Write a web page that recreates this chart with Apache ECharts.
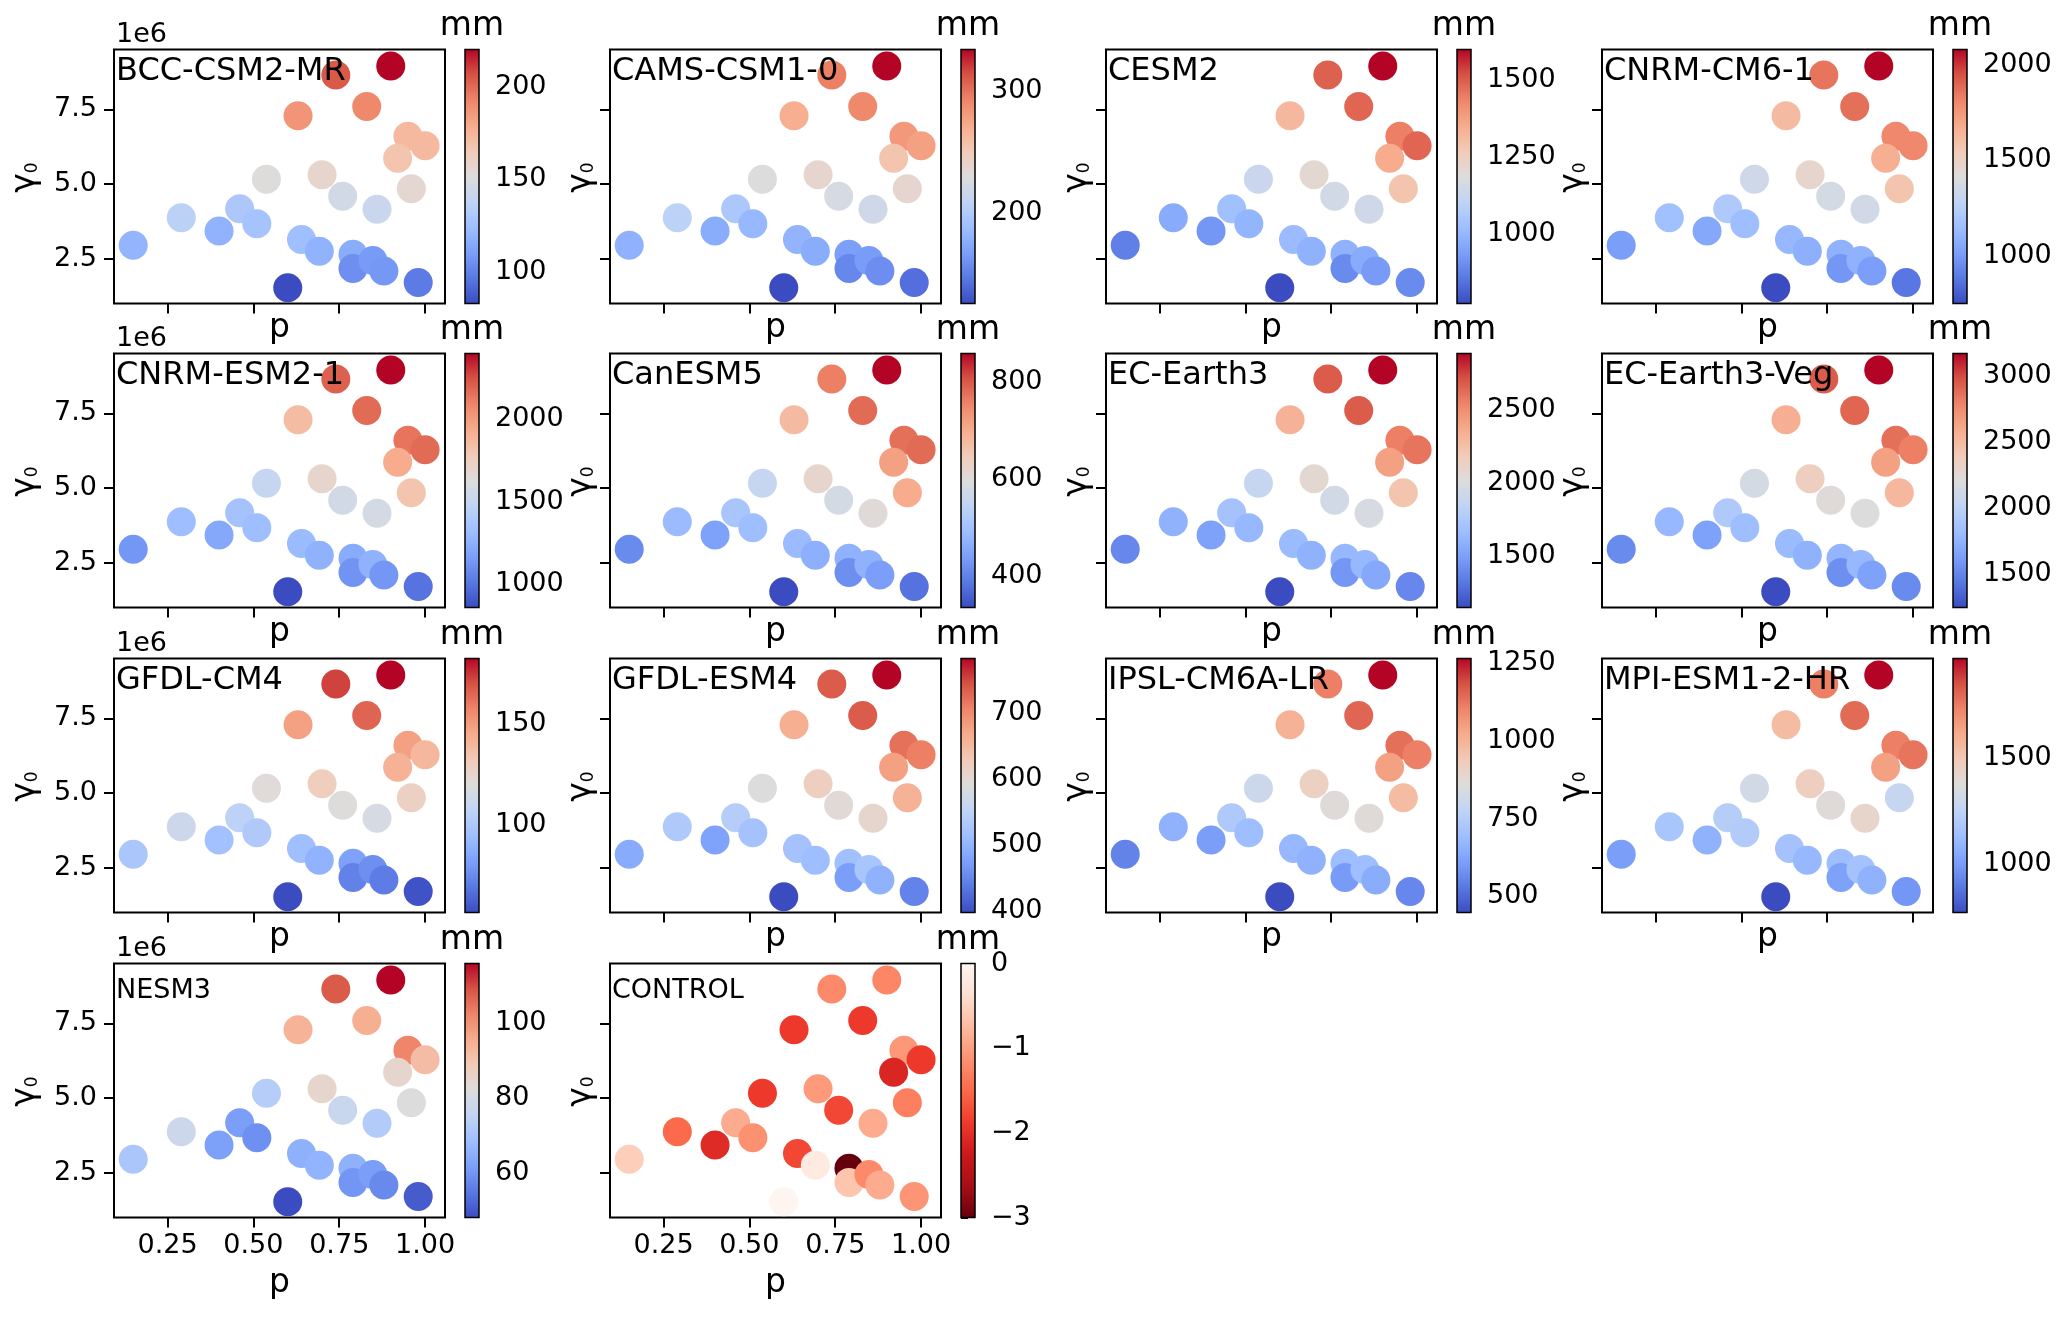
<!DOCTYPE html>
<html>
<head>
<meta charset="utf-8">
<script src="https://cdn.jsdelivr.net/npm/echarts@6/dist/echarts.min.js"></script>
<style>
html,body{margin:0;padding:0;background:#fff;}
#chart{width:2067px;height:1320px;}
</style>
</head>
<body>
<div id="chart"></div>
<script>
// panel names, in grid order
var models = ["BCC-CSM2-MR","CAMS-CSM1-0","CESM2","CNRM-CM6-1",
              "CNRM-ESM2-1","CanESM5","EC-Earth3","EC-Earth3-Veg",
              "GFDL-CM4","GFDL-ESM4","IPSL-CM6A-LR","MPI-ESM1-2-HR",
              "NESM3","CONTROL"];

// shared point positions (p, gamma0 in units of 1e6)
var pVals = [0.900,0.740,0.830,0.630,0.950,1.000,0.920,0.538,0.700,0.960,0.760,0.860,0.290,
             0.460,0.510,0.400,0.150,0.640,0.692,0.790,0.790,0.848,0.880,0.980,0.600];
var gammaVals = [8.95,8.65,7.59,7.28,6.60,6.28,5.86,5.16,5.31,4.84,4.59,4.15,3.87,
                 4.17,3.67,3.43,2.95,3.14,2.75,2.65,2.17,2.44,2.09,1.70,1.53];

// colour values (mm) per model
var bccVals      = [220,204,191,187,173,173,168,152,157,156,146,142,136,130,127,119,120,125,119,116,105,109,108,98,83];
var camsVals     = [334,294,290,270,282,278,255,230,238,238,224,220,207,197,184,176,180,182,176,168,155,166,159,143,126];
var cesm2Vals    = [1600,1493,1484,1319,1443,1484,1352,1129,1212,1286,1154,1146,972,1030,997,923,873,1014,989,989,898,972,931,898,774];
var cnrmcm6Vals  = [2079,1853,1867,1615,1800,1800,1668,1349,1469,1575,1376,1362,1163,1216,1150,1057,1017,1124,1084,1097,991,1097,1017,885,752];
var cnrmesm2Vals = [2400,2200,2169,1860,2138,2169,1937,1506,1691,1814,1567,1583,1321,1351,1321,1213,1136,1305,1259,1228,1120,1259,1136,997,858];
var canesm5Vals  = [860,760,781,676,776,781,718,555,618,702,581,602,487,508,492,444,413,487,466,471,418,471,439,381,334];
var ecearthVals  = [2890,2681,2681,2332,2558,2593,2419,1878,2070,2227,1948,1983,1599,1703,1634,1511,1389,1651,1599,1634,1459,1634,1546,1389,1145];
var ecvegVals    = [3172,2941,2903,2575,2864,2806,2652,2152,2364,2518,2229,2210,1786,1921,1825,1651,1536,1805,1748,1767,1555,1786,1651,1536,1247];
var gfdlcm4Vals  = [182,172,165,148,148,140,142,121,130,128,120,116,112,106,101,96,99,95,90,83,73,77,71,59,57];
var gfdlesm4Vals = [782,736,736,663,720,709,678,590,620,659,597,605,532,539,520,478,489,520,513,516,474,524,497,447,397];
var ipslVals     = [1266,1110,1151,1004,1135,1110,1045,807,914,979,865,865,660,734,693,611,553,676,660,693,603,693,644,562,447];
var mpiVals      = [1973,1745,1793,1552,1745,1769,1648,1324,1468,1276,1384,1432,1168,1216,1204,1084,1011,1156,1108,1132,1023,1156,1084,987,771];
var nesm3Vals    = [116,108,95,94,102,92,85,73,85,82,77,72.5,78,61.5,59,62,71,65.5,66,65.5,60,61.5,58,50.5,48];
var controlVals  = [-1.23,-1.2,-1.9,-1.9,-1.08,-1.9,-2.1,-1.9,-1.05,-1.3,-1.78,-0.9,-1.5,
                    -0.9,-1.13,-2.05,-0.55,-1.78,-0.2,-3.0,-0.65,-1.2,-0.9,-1.1,0];

var panelVals = [bccVals,camsVals,cesm2Vals,cnrmcm6Vals,cnrmesm2Vals,canesm5Vals,ecearthVals,
                 ecvegVals,gfdlcm4Vals,gfdlesm4Vals,ipslVals,mpiVals,nesm3Vals,controlVals];

// tick labels
var xTicks = [0.25,0.50,0.75,1.00];
var yTicks = [2.5,5.0,7.5];
var cbTicks = [[100,150,200],[200,300],[1000,1250,1500],[1000,1500,2000],
               [1000,1500,2000],[400,600,800],[1500,2000,2500],[1500,2000,2500,3000],
               [100,150],[400,500,600,700],[500,750,1000,1250],[1000,1500],
               [60,80,100],[-3,-2,-1,0]];

var coolwarm = ['#3b4cc0','#5977e3','#7b9ff9','#9ebeff','#c0d4f5','#dddcdc',
                '#f2cbb7','#f7ac8e','#ee8468','#d65244','#b40426'];
var redsR = ['#67000d','#a50f15','#cb181d','#ef3b2c','#fb6a4a','#fc9272','#fcbba1','#fee0d2','#fff5f0'];

var FONT = 'DejaVu Sans';
var colLeft = [114, 610, 1106, 1602];
var rowTop = [49.5, 353.5, 658.5, 963.5];
var plotW = 331, plotH = 254;
var cbOff = 351, cbW = 14;

var grids = [], xAxes = [], yAxes = [], series = [], vms = [], texts = [];

function stopsOf(cols){
    var s = [];
    for(var k=0;k<cols.length;k++){
        s.push({offset:k/(cols.length-1), color:cols[k]});
    }
    return s;
}

for(var i=0;i<models.length;i++){
    var row = Math.floor(i/4), col = i%4;
    var L = colLeft[col], T = rowTop[row];
    var vals = panelVals[i];
    var lo = Math.min.apply(null, vals), hi = Math.max.apply(null, vals);
    var cols = (i===13) ? redsR : coolwarm;
    var g = grids.length;

    grids.push({left:L, top:T, width:plotW, height:plotH, show:true,
                borderColor:'#000', borderWidth:2, backgroundColor:'rgba(0,0,0,0)'});
    grids.push({left:L+cbOff, top:T, width:cbW, height:plotH});

    xAxes.push({
        gridIndex:g, type:'value', min:0.094, max:1.058,
        axisLine:{show:false}, splitLine:{show:false},
        axisTick:{show:true, customValues:xTicks, length:10, lineStyle:{color:'#000', width:2}},
        axisLabel:{show: row===3, customValues:xTicks, margin:15, color:'#000',
                   fontSize:27, fontFamily:FONT,
                   formatter:function(v){return v.toFixed(2);}}
    });
    yAxes.push({
        gridIndex:g, type:'value', min:1.0, max:9.5,
        axisLine:{show:false}, splitLine:{show:false},
        axisTick:{show:true, customValues:yTicks, length:10, lineStyle:{color:'#000', width:2}},
        axisLabel:{show: col===0, customValues:yTicks, margin:17, color:'#000',
                   fontSize:27, fontFamily:FONT,
                   formatter:function(v){return v.toFixed(1);}}
    });
    // colorbar axes
    xAxes.push({gridIndex:g+1, type:'value', min:0, max:1, show:false});
    yAxes.push({
        gridIndex:g+1, type:'value', position:'right', min:lo, max:hi,
        axisLine:{show:false}, splitLine:{show:false},
        axisTick:{show:true, customValues:cbTicks[i], length:7, lineStyle:{color:'#000', width:2}},
        axisLabel:{show:true, customValues:cbTicks[i], margin:16, color:'#000',
                   fontSize:27, fontFamily:FONT,
                   formatter:function(v){return v<0 ? '\u2212'+Math.abs(v) : String(v);}}
    });

    var data = [];
    for(var j=0;j<pVals.length;j++){
        data.push([pVals[j], gammaVals[j], vals[j]]);
    }
    vms.push({type:'continuous', show:false, seriesIndex:series.length, dimension:2,
              min:lo, max:hi, inRange:{color:cols}});
    series.push({type:'scatter', xAxisIndex:g, yAxisIndex:g, data:data,
                 symbolSize:29, silent:true, itemStyle:{opacity:1}});
    (function(cols){
        series.push({
            type:'custom', xAxisIndex:g+1, yAxisIndex:g+1, silent:true,
            data:[[0, lo, 1, hi]],
            renderItem:function(params, api){
                var a = api.coord([api.value(0), api.value(1)]);
                var b = api.coord([api.value(2), api.value(3)]);
                return {type:'rect',
                        shape:{x:a[0], y:b[1], width:b[0]-a[0], height:a[1]-b[1]},
                        style:{fill:new echarts.graphic.LinearGradient(0,1,0,0, stopsOf(cols)),
                               stroke:'#000', lineWidth:1.5}};
            }
        });
    })(cols);

    // texts
    var small = (i>=12);
    texts.push({type:'text', x:L+2, y:T+(small?27.9:22.6), z:100,
        style:{text:models[i], fontSize:small?27:32, fontFamily:FONT, fill:'#000',
               align:'left', verticalAlign:'middle', textAlign:'left', textVerticalAlign:'middle'}});
    texts.push({type:'text', x:L+cbOff+cbW/2, y:T-22.7, z:100,
        style:{text:'mm', fontSize:33, fontFamily:FONT, fill:'#000',
               align:'center', verticalAlign:'middle', textAlign:'center', textVerticalAlign:'middle'}});
    if(col===0){
        texts.push({type:'text', x:L+2, y:T-14.6, z:100,
            style:{text:'1e6', fontSize:27, fontFamily:FONT, fill:'#000',
                   align:'left', verticalAlign:'middle', textAlign:'left', textVerticalAlign:'middle'}});
    }
    texts.push({type:'text', x:L+plotW/2, y:T+plotH+(row===3?75.8:35)-9.9, z:100,
        style:{text:'p', fontSize:33, fontFamily:FONT, fill:'#000',
               align:'center', verticalAlign:'middle', textAlign:'center', textVerticalAlign:'middle'}});
    // gamma_0 label, rotated, with a real subscript
    texts.push({type:'text', x:L-(col===0?89:29), y:T+plotH/2+1, rotation:Math.PI/2, z:100,
        style:{text:'{g|\u03b3}{s|0}', fontFamily:FONT, fill:'#000',
               align:'center', verticalAlign:'middle', textAlign:'center', textVerticalAlign:'middle',
               rich:{
                   g:{fontSize:33, lineHeight:33, fontFamily:FONT, fill:'#000'},
                   s:{fontSize:17, lineHeight:10, verticalAlign:'bottom', fontFamily:FONT, fill:'#000'}
               }}});
}

var chart = echarts.init(document.getElementById('chart'));
chart.setOption({
    animation:false,
    backgroundColor:'#fff',
    textStyle:{fontFamily:FONT},
    grid:grids,
    xAxis:xAxes,
    yAxis:yAxes,
    visualMap:vms,
    series:series,
    graphic:texts
});
</script>
</body>
</html>
